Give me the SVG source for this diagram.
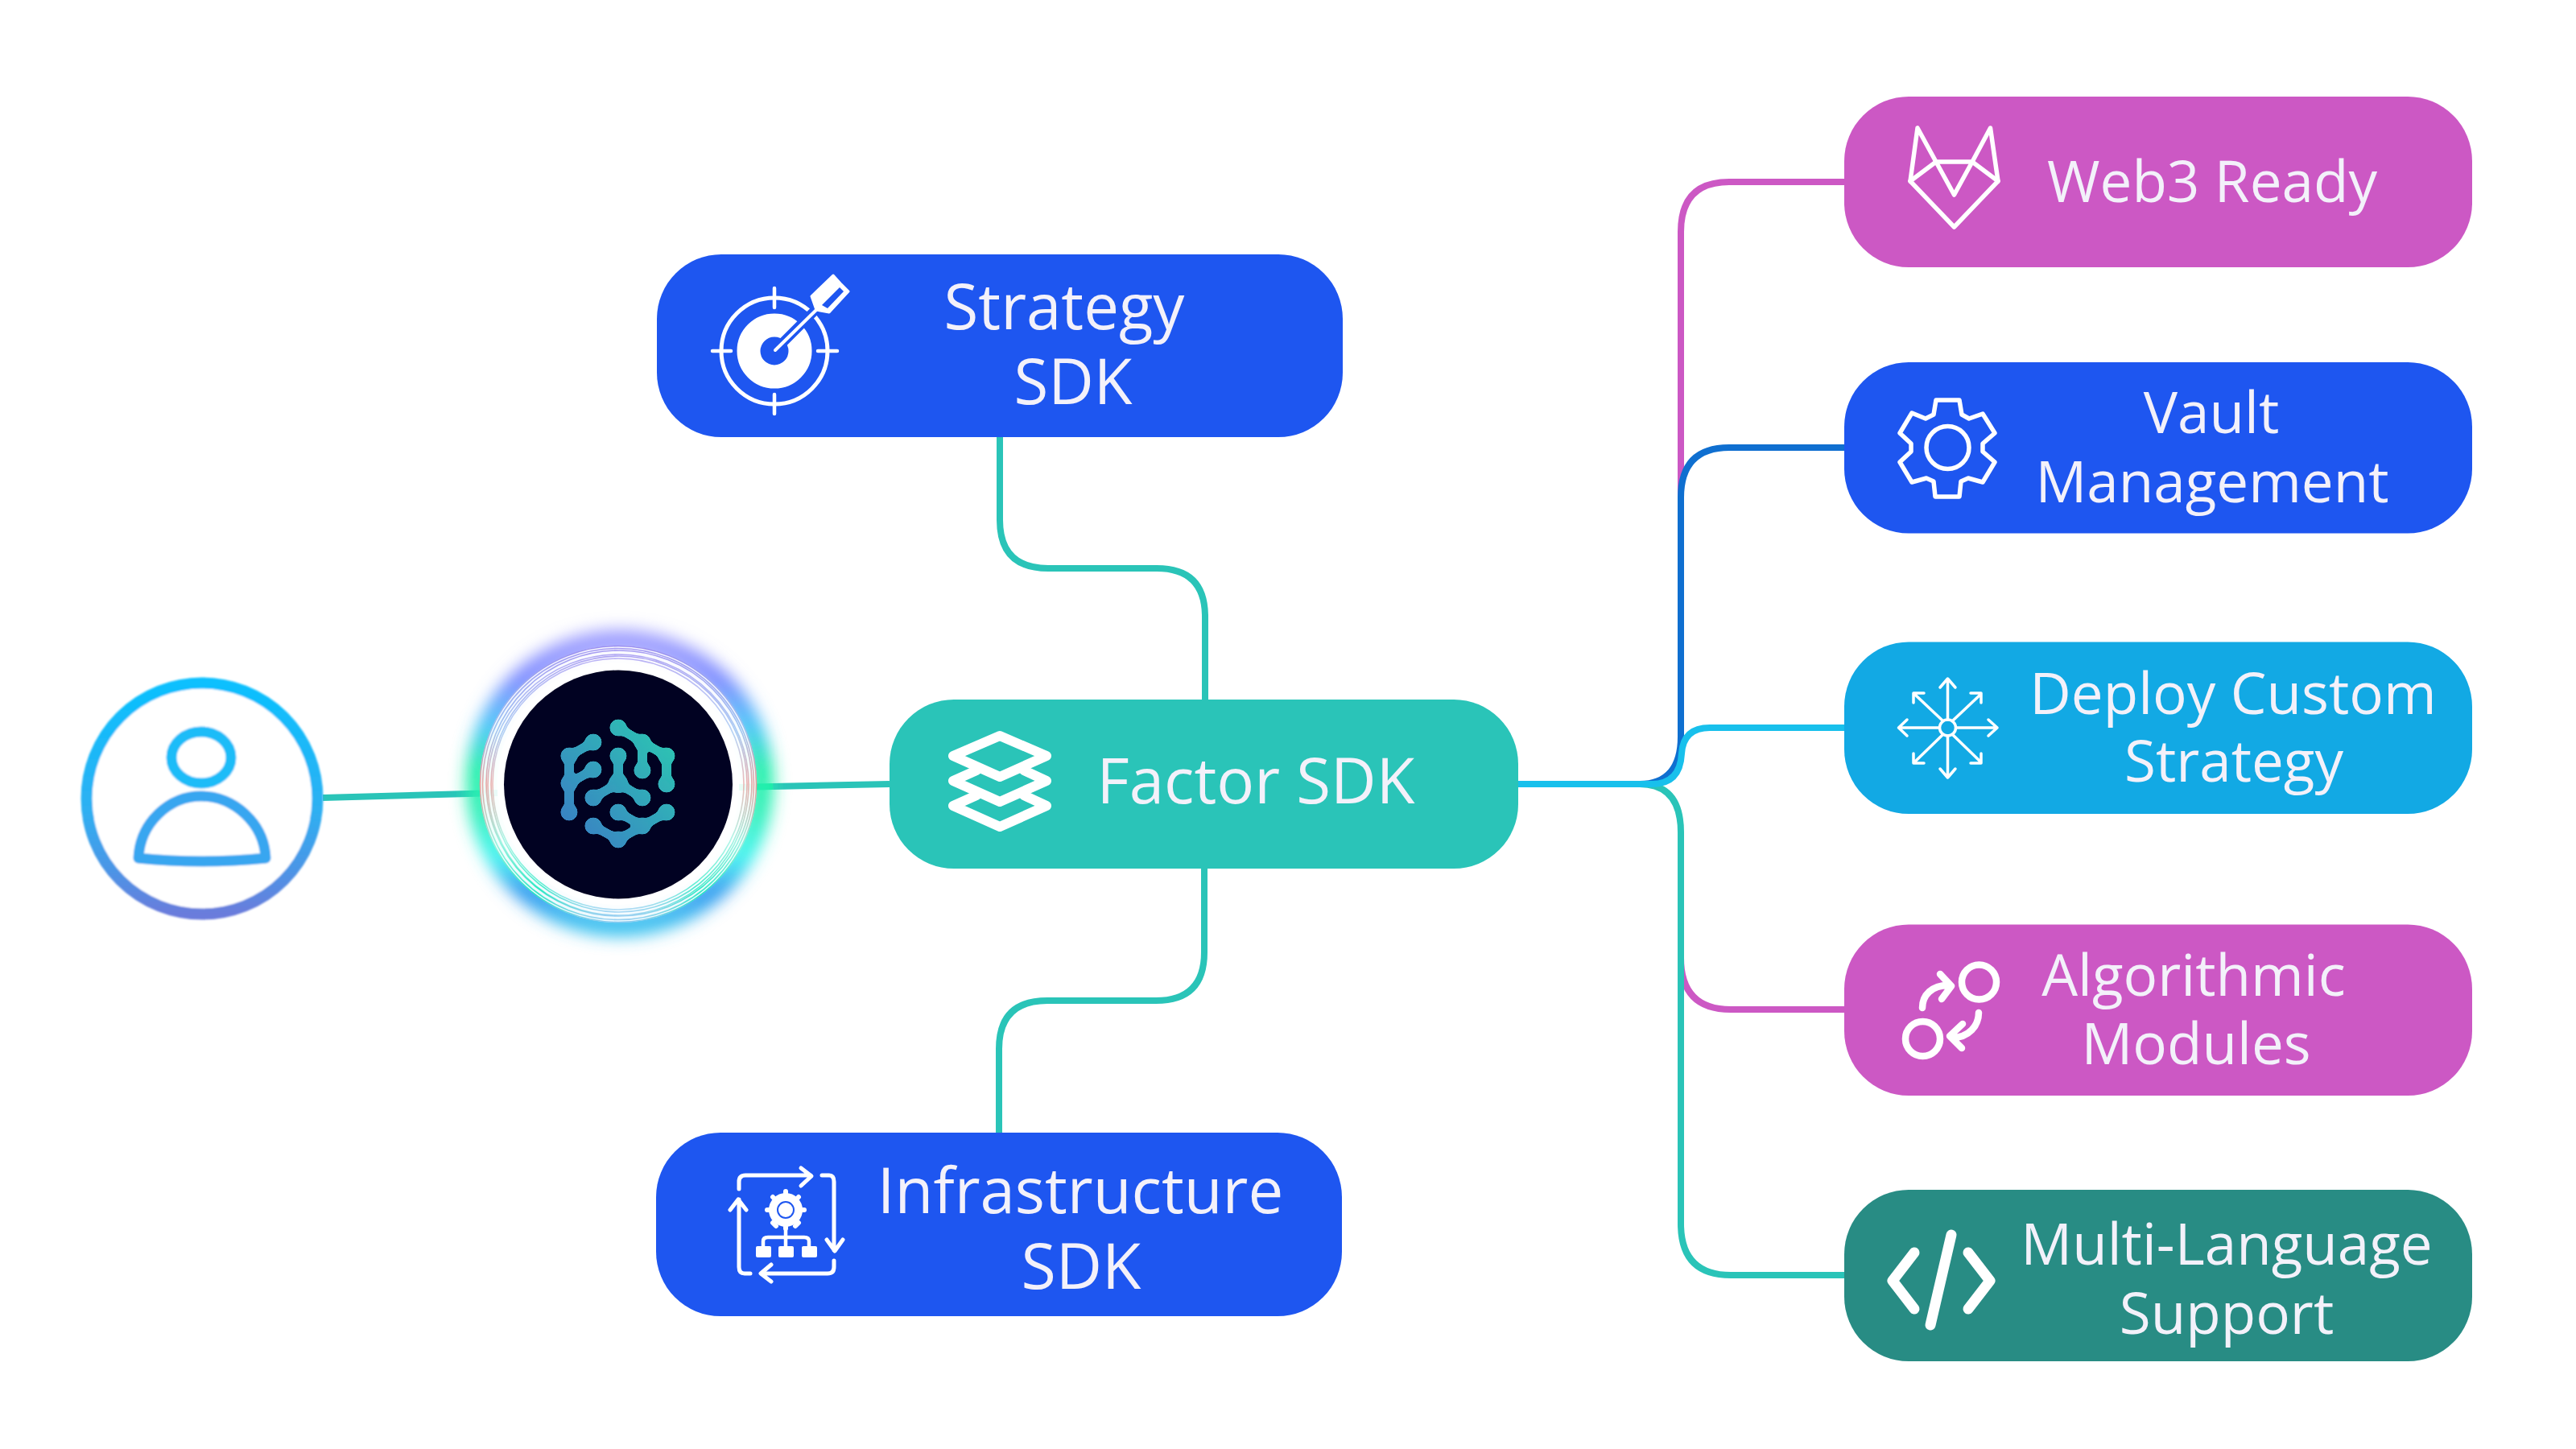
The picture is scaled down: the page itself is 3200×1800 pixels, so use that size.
<svg xmlns="http://www.w3.org/2000/svg" width="3200" height="1800" viewBox="0 0 3200 1800">
<style>
.c{fill:none;stroke-width:8}
.t{fill:#2ac4b8}.tl{stroke:#2ac4b8}
.n{font-family:"Open Sans","Noto Sans","Liberation Sans",sans-serif;font-weight:400;fill:#f3f1fa;text-anchor:middle}
.i{fill:none;stroke:#fff;stroke-linecap:round;stroke-linejoin:round}
.r{fill:none;stroke:url(#ringG);stroke-width:1.6}
</style>
<defs>
<linearGradient id="glowG" x1="0" y1="0" x2="0" y2="1">
<stop offset="0" stop-color="#a0a0ff"/><stop offset=".14" stop-color="#7c8cff"/><stop offset=".3" stop-color="#44c4f8"/><stop offset=".45" stop-color="#20f0a8"/><stop offset=".6" stop-color="#30f0b8"/><stop offset=".76" stop-color="#40f4f0"/><stop offset=".88" stop-color="#3298f0"/><stop offset="1" stop-color="#40c4f0"/>
</linearGradient>
<linearGradient id="ringG" x1="0" y1="0" x2="0" y2="1">
<stop offset="0" stop-color="#9c90f0"/><stop offset=".3" stop-color="#98c0f0"/><stop offset=".5" stop-color="#e89c9c"/><stop offset=".72" stop-color="#90f0dc"/><stop offset=".9" stop-color="#20e8c0"/><stop offset="1" stop-color="#90ccf0"/>
</linearGradient>
<linearGradient id="userG" x1="0" y1="0" x2="0" y2="1">
<stop offset="0" stop-color="#0ac0fe"/><stop offset=".55" stop-color="#2eb0f2"/><stop offset=".8" stop-color="#4a96e6"/><stop offset="1" stop-color="#6a7cdc"/>
</linearGradient>
<linearGradient id="brainG" gradientUnits="userSpaceOnUse" x1="700" y1="1030" x2="835" y2="910">
<stop offset="0" stop-color="#3a80c4"/><stop offset="1" stop-color="#2cc6b2"/>
</linearGradient>
<filter id="blur" x="-30%" y="-30%" width="160%" height="160%"><feGaussianBlur stdDeviation="10"/></filter>
<filter id="soft" x="-5%" y="-5%" width="110%" height="110%"><feGaussianBlur stdDeviation="1.2"/></filter>
<filter id="goo" x="-10%" y="-10%" width="120%" height="120%"><feGaussianBlur stdDeviation="2.6"/><feColorMatrix values="1 0 0 0 0 0 1 0 0 0 0 0 1 0 0 0 0 0 14 -6"/></filter>
</defs>
<rect width="3200" height="1800" fill="#fff"/>

<g id="connectors">
<path class="c tl" d="M401 991L618 985"/>
<path class="c" stroke="#12e8a4" d="M918 978L960 977"/>
<path class="c tl" d="M960 977L1105 974"/>
<path class="c tl" d="M1242 543V646Q1242 706 1302 706H1437Q1497 706 1497 766V869"/>
<path class="c tl" d="M1496 1079V1183Q1496 1243 1436 1243H1301Q1241 1243 1241 1303V1407"/>
<path class="c" stroke="#cc58c4" d="M2291 226H2148Q2088 226 2088 288V620"/>
<path class="c" stroke="#cc58c4" d="M2088 1190Q2088 1254 2150 1254H2291"/>
<path class="c tl" d="M1886 974H2037Q2088 974 2088 1034V1520Q2088 1584 2150 1584H2291"/>
<path class="c" stroke="#0f6fd0" d="M2291 556H2148Q2088 556 2088 618V915Q2088 974 2037 974H1886"/>
<path class="c" stroke="#18c0ec" d="M2291 904H2124Q2091 904 2089 936Q2087 974 2052 974H1886"/>
</g>

<g id="user">
<g filter="url(#soft)">
<circle cx="251" cy="992" r="143.500" fill="#fff" stroke="url(#userG)" stroke-width="14"/>
<ellipse cx="250" cy="941" rx="37" ry="32" fill="none" stroke="#1abcf8" stroke-width="13"/>
<path d="M172 1066C174 1022 210 989 250 989C290 989 328 1022 330 1066Q250 1074 172 1066Z" fill="none" stroke="#38a6f0" stroke-width="13" stroke-linejoin="round"/>
</g>
</g>

<g id="agent">
<circle cx="770" cy="973" r="176" fill="none" stroke="url(#glowG)" stroke-width="30" filter="url(#blur)"/>
<circle cx="768" cy="974" r="172" fill="#fff" opacity=".9"/>
<circle class="r" cx="768" cy="974" r="171.500"/>
<circle class="r" cx="768" cy="974" r="168.500" opacity=".9"/>
<circle class="r" cx="769" cy="973" r="165" opacity=".9"/>
<circle class="r" cx="768" cy="975" r="162" opacity=".8"/>
<circle class="r" cx="769" cy="974" r="159" opacity=".8"/>
<circle class="r" cx="768" cy="974" r="156" opacity=".7"/>
<circle cx="768" cy="974" r="150" fill="#fff"/>
<circle cx="768" cy="974.500" r="142" fill="#010222"/>
<g filter="url(#goo)" fill="url(#brainG)" stroke="url(#brainG)" stroke-width="11" stroke-linecap="round" stroke-linejoin="round">
<path fill="none" d="M768 904L798 922L828 939V974M798 922V957M737 922L707 939V1009M737 956L707 973M768 939V973L737 991M768 973L798 991M768 1009L798 1026L828 1009M737 1026L768 1043L798 1026"/>
<g stroke="none">
<circle cx="768" cy="904" r="10.600"/><circle cx="737" cy="922" r="10.600"/><circle cx="707" cy="939" r="10.600"/><circle cx="737" cy="956" r="10.600"/><circle cx="707" cy="973" r="10.600"/><circle cx="707" cy="1009" r="10.600"/><circle cx="768" cy="939" r="10.600"/><circle cx="798" cy="957" r="10.600"/><circle cx="798" cy="922" r="10.600"/><circle cx="828" cy="939" r="10.600"/><circle cx="828" cy="974" r="10.600"/><circle cx="737" cy="991" r="10.600"/><circle cx="798" cy="991" r="10.600"/><circle cx="768" cy="973" r="12"/><circle cx="768" cy="1009" r="10.600"/><circle cx="828" cy="1009" r="10.600"/><circle cx="798" cy="1026" r="10.600"/><circle cx="737" cy="1026" r="10.600"/><circle cx="768" cy="1043" r="10.600"/>
</g>
</g>
</g>

<g id="factor-sdk">
<rect class="t" x="1105" y="869" width="781" height="210" rx="80"/>
<g class="i" stroke-width="12">
<path d="M1242 914L1300 939L1242 965L1184 939Z"/>
<path d="M1213 957L1184 970L1242 996L1300 970L1272 957"/>
<path d="M1213 988L1184 1001L1242 1027L1300 1001L1272 988"/>
</g>
<text class="n" x="1560" y="998" font-size="78">Factor SDK</text>
</g>

<g id="strategy-sdk">
<rect x="816" y="316" width="852" height="227" rx="80" fill="#1e56f0"/>
<circle cx="962" cy="436" r="66" fill="none" stroke="#fff" stroke-width="5"/>
<circle cx="962" cy="436" r="32" fill="none" stroke="#fff" stroke-width="29"/>
<path d="M958 440L1022 376" stroke="#1e56f0" stroke-width="12" fill="none"/>
<g class="i" stroke-width="4.500">
<path d="M962 358V382M962 490V514M885 436H908M1016 436H1040"/>
<path d="M963 435L1014 385" stroke-width="4"/>
<path d="M1035 342L1008 368L1014 385L1030 388L1054 362L1044 352Z" fill="#fff" stroke-width="3"/>
</g>
<path d="M1021 379L1043 357L1048 362L1028 383Z" fill="#1e56f0"/>
<text class="n" x="1322" y="409" font-size="78">Strategy</text>
<text class="n" x="1333" y="502" font-size="78">SDK</text>
</g>

<g id="infrastructure-sdk">
<rect x="815" y="1407" width="852" height="228" rx="80" fill="#1e56f0"/>
<g class="i" stroke-width="5">
<path d="M918 1477V1468Q918 1460 926 1460H1007M995 1451L1008 1461L995 1473"/>
<path d="M1021 1460H1030Q1036 1460 1036 1468V1553M1027 1540L1037 1554L1047 1540"/>
<path d="M1036 1566V1574Q1036 1582 1028 1582H946M958 1571L945 1582L958 1592"/>
<path d="M932 1582H925Q918 1582 918 1574V1490M907 1503L917 1490L927 1503"/>
<circle cx="976" cy="1503" r="16" stroke-width="10"/>
<path d="M976 1503m0-23v6M976 1526v-6M953 1503h6M999 1503h-6M960 1487l4 4M992 1487l-4 4M960 1519l4 4M992 1519l-4 4" stroke-width="6"/>
<path d="M976 1525V1548M948 1548V1542Q948 1537 954 1537H999Q1005 1537 1005 1542V1548" stroke-width="4.500"/>
</g>
<circle cx="976" cy="1503" r="9" fill="#fff"/>
<g fill="#fff"><rect x="939" y="1548" width="19" height="14" rx="2"/><rect x="967" y="1548" width="19" height="14" rx="2"/><rect x="996" y="1548" width="19" height="14" rx="2"/></g>
<text class="n" x="1342" y="1507" font-size="78">Infrastructure</text>
<text class="n" x="1343" y="1601" font-size="79">SDK</text>
</g>

<g id="web3-ready">
<rect x="2291" y="120" width="780" height="212" rx="80" fill="#cc58c4"/>
<g class="i" stroke-width="5.500">
<path d="M2382 159L2373 225L2427.500 282L2482 225L2472.500 159L2450 201H2405Z"/>
<path d="M2373 225L2405 201L2427.500 242L2450 201L2482 225"/>
</g>
<text class="n" x="2748" y="251" font-size="71">Web3 Ready</text>
</g>

<g id="vault-management">
<rect x="2291" y="450" width="780" height="212.500" rx="80" fill="#1e56f0"/>
<g class="i" stroke-width="5.500">
<path d="M2405 497H2434L2437 515L2446 520L2463 514L2478 538L2463 551V561L2478 574L2463 599L2445 594L2436 598L2434 617H2404L2402 598L2393 594L2375 599L2360 574L2374 561V551L2360 538L2375 513L2392 520L2402 515Z"/>
<circle cx="2419.500" cy="556" r="26.500"/>
</g>
<text class="n" x="2747" y="538" font-size="71">Vault</text>
<text class="n" x="2748" y="623.500" font-size="71">Management</text>
</g>

<g id="deploy-custom-strategy">
<rect x="2291" y="797.500" width="780" height="213.500" rx="80" fill="#12a9e4"/>
<g class="i" stroke-width="3.500">
<circle cx="2419.500" cy="904" r="10"/>
<path d="M2419.500 894V844M2410 854L2419.500 843L2429 854M2419.500 914V965M2410 955L2419.500 966L2429 955M2409 904H2359M2369 894L2358.500 904L2369 914M2430 904H2481M2470 894L2481 904L2470 914"/>
<path d="M2413 895L2378 862M2377 873V861H2390M2426 895L2461 862M2461 873V861H2448M2413 913L2378 947M2377 936V948H2390M2426 913L2461 947M2461 936V948H2448"/>
</g>
<text class="n" x="2774" y="887" font-size="71">Deploy Custom</text>
<text class="n" x="2775" y="971" font-size="71">Strategy</text>
</g>

<g id="algorithmic-modules">
<rect x="2291" y="1148.500" width="780" height="212.500" rx="80" fill="#cc58c4"/>
<g class="i" stroke-width="8.500">
<circle cx="2458.500" cy="1220" r="21.500"/>
<circle cx="2388.500" cy="1290.500" r="21.500"/>
<path d="M2388 1252C2388 1236 2400 1224 2420 1224M2410 1210L2424 1225L2412 1241"/>
<path d="M2458 1258C2458 1274 2446 1289 2425 1289M2438 1272L2422 1287L2437 1302"/>
</g>
<text class="n" x="2725" y="1236.500" font-size="71">Algorithmic</text>
<text class="n" x="2728" y="1322" font-size="71">Modules</text>
</g>

<g id="multi-language-support">
<rect x="2291" y="1478" width="780" height="213" rx="80" fill="#288c84"/>
<g class="i" stroke-width="13">
<path d="M2378 1556L2351 1591L2378 1626M2445 1556L2472 1591L2445 1626M2424 1534L2398 1646"/>
</g>
<text class="n" x="2766" y="1570.500" font-size="71">Multi-Language</text>
<text class="n" x="2766" y="1657" font-size="71">Support</text>
</g>
</svg>
